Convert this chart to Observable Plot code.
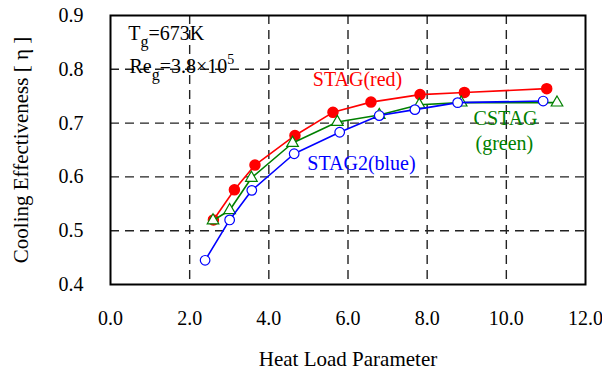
<!DOCTYPE html>
<html>
<head>
<meta charset="utf-8">
<script src="https://cdn.jsdelivr.net/npm/d3@7"></script>
<script src="https://cdn.jsdelivr.net/npm/@observablehq/plot@0.6"></script>
<style>
  html, body { margin: 0; padding: 0; background: #fff; }
</style>
</head>
<body>
<div id="chart"></div>
<script>
// ---- data ----
const stagX  = [2.60, 3.13, 3.65, 4.66, 5.62, 6.58, 7.82, 8.94, 11.02];
const stagY  = [0.520, 0.576, 0.622, 0.677, 0.720, 0.739, 0.753, 0.757, 0.764];
const cstagX = [2.59, 3.01, 3.56, 4.60, 5.73, 6.79, 7.80, 8.86, 11.28];
const cstagY = [0.519, 0.538, 0.598, 0.663, 0.702, 0.715, 0.734, 0.738, 0.738];
const stag2X = [2.39, 3.01, 3.57, 4.64, 5.79, 6.79, 7.69, 8.77, 10.93];
const stag2Y = [0.445, 0.520, 0.575, 0.643, 0.683, 0.714, 0.725, 0.738, 0.741];

const xTicks = [0, 2, 4, 6, 8, 10, 12];
const yTicks = [0.4, 0.5, 0.6, 0.7, 0.8, 0.9];
const xGrid = [2, 4, 6, 8, 10];
const yGrid = [0.5, 0.6, 0.7, 0.8];

const xLabel = "Heat Load Parameter";
const yLabel = "Cooling Effectiveness [ η ]";

const seriesLabels = [
  {x: 6.24, y: 0.781, text: "STAG(red)", color: "#ff0000"},
  {x: 9.98, y: 0.709, text: "CSTAG", color: "#008000"},
  {x: 9.95, y: 0.661, text: "(green)", color: "#008000"},
  {x: 6.34, y: 0.624, text: "STAG2(blue)", color: "#0000ff"}
];
const notes = [
  {x: 0.45, y: 0.855, text: "T_{g}=673K"},
  {x: 0.48, y: 0.794, text: "Re_{g}=3.8×10^{5}"}
];

const rows = (xs, ys) => xs.map((x, i) => ({x, y: ys[i]}));
const stag = rows(stagX, stagY);
const cstag = rows(cstagX, cstagY);
const stag2 = rows(stag2X, stag2Y);

const RED = "#ff0000", GREEN = "#008000", BLUE = "#0000ff";

const plot = Plot.plot({
  width: 602,
  height: 370,
  marginLeft: 110,
  marginRight: 17,
  marginTop: 15,
  marginBottom: 86,
  style: {fontFamily: "'Liberation Serif', 'Times New Roman', serif", fontSize: "20px", color: "#000", background: "#fff"},
  x: {domain: [0, 12]},
  y: {domain: [0.4, 0.9]},
  marks: [
    Plot.gridX(xGrid, {stroke: "#222", strokeOpacity: 1, strokeWidth: 1.4, strokeDasharray: "9,6"}),
    Plot.gridY(yGrid, {stroke: "#222", strokeOpacity: 1, strokeWidth: 1.4, strokeDasharray: "9,6"}),
    Plot.axisX(xTicks, {tickSize: 0, tickPadding: 26, tickFormat: d => d.toFixed(1), label: null}),
    Plot.axisY(yTicks, {tickSize: 0, tickPadding: 27, tickFormat: d => d.toFixed(1), label: null}),
    Plot.text([xLabel], {frameAnchor: "bottom", dy: 81, lineAnchor: "bottom", textAnchor: "middle", fontSize: 21, fill: "#000"}),
    Plot.text([yLabel], {frameAnchor: "left", rotate: -90, dx: -83, lineAnchor: "bottom", textAnchor: "middle", fontSize: 21, fill: "#000"}),
    // red
    Plot.line(stag, {x: "x", y: "y", stroke: RED, strokeWidth: 1.6}),
    Plot.dot(stag, {x: "x", y: "y", r: 5, fill: RED, stroke: RED}),
    // green
    Plot.line(cstag, {x: "x", y: "y", stroke: GREEN, strokeWidth: 1.6}),
    Plot.dot(cstag, {x: "x", y: "y", r: 4.3, symbol: "triangle", fill: "white", stroke: GREEN, strokeWidth: 1.2}),
    // blue
    Plot.line(stag2, {x: "x", y: "y", stroke: BLUE, strokeWidth: 1.6}),
    Plot.dot(stag2, {x: "x", y: "y", r: 4.8, fill: "white", stroke: BLUE, strokeWidth: 1.2}),
    Plot.text(seriesLabels, {x: "x", y: "y", text: "text", fill: "color", lineAnchor: "middle"}),
    Plot.text(notes, {x: "x", y: "y", text: "text", textAnchor: "start", lineAnchor: "bottom", fill: "#000"}),
    Plot.frame({stroke: "#000", strokeWidth: 2})
  ]
});

// sub/superscripts
d3.select(plot).selectAll("text").each(function () {
  const t = this.textContent;
  if (!/[_^]\{/.test(t)) return;
  const el = d3.select(this);
  el.text(null);
  const re = /(_\{[^}]*\}|\^\{[^}]*\}|[^_^]+)/g;
  let m, off = 0;
  while ((m = re.exec(t))) {
    const tok = m[0];
    let txt = tok, size = null, target = 0;
    if (tok.startsWith("_{")) { txt = tok.slice(2, -1); size = 16; target = 7; }
    else if (tok.startsWith("^{")) { txt = tok.slice(2, -1); size = 14; target = -9; }
    const ts = el.append("tspan").text(txt).attr("dy", target - off);
    if (size) ts.attr("font-size", size);
    off = target;
  }
});

document.getElementById("chart").appendChild(plot);
</script>
</body>
</html>
